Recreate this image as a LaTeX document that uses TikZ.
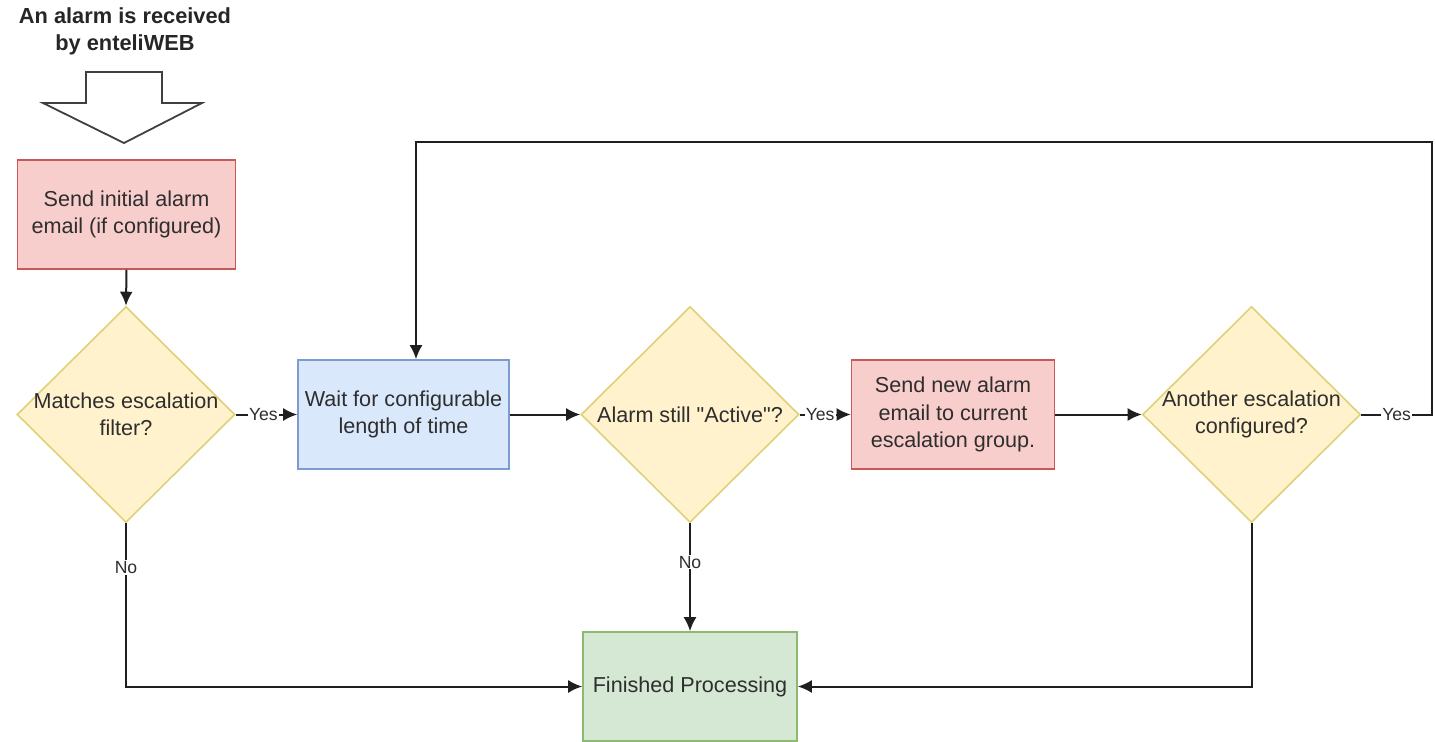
\documentclass[tikz,border=0pt]{standalone}
\usepackage{fontspec}
\setmainfont{Liberation Sans}
\newfontfamily\plainfont{Liberation Sans}
\usetikzlibrary{shapes.geometric,arrows.meta}
\definecolor{redfill}{HTML}{F8CECC}
\definecolor{redline}{HTML}{C8585A}
\definecolor{bluefill}{HTML}{DAE8FC}
\definecolor{blueline}{HTML}{7C9BD0}
\definecolor{yelfill}{HTML}{FFF2CC}
\definecolor{yelline}{HTML}{DDD27A}
\definecolor{grnfill}{HTML}{D5E8D4}
\definecolor{grnline}{HTML}{8DBA72}
\definecolor{txt}{HTML}{2E2E2E}
\tikzset{
  box/.style={draw, line width=0.8pt, minimum width=#1, inner sep=0pt, minimum height=54.5pt, align=center, text=txt, font=\fontsize{10.8}{13.6}\selectfont},
  redbox/.style={box=#1, fill=redfill, draw=redline},
  bluebox/.style={box=#1, fill=bluefill, draw=blueline},
  greenbox/.style={box=#1, fill=grnfill, draw=grnline},
  decision/.style={diamond, aspect=1, draw=yelline, fill=yelfill, line width=0.8pt, minimum width=109pt, minimum height=108pt, inner sep=-5pt, align=center, text=txt, font=\fontsize{10.8}{13.6}\selectfont},
  conn/.style={draw=black!88, line width=1.0pt, -{Latex[length=7pt,width=6.5pt]}},
  lbl/.style={fill=white, inner sep=0.6pt, text=txt, font=\fontsize{8.8}{10}\selectfont},
}
\begin{document}
\begin{tikzpicture}[x=0.5pt,y=-0.5pt]
\useasboundingbox[fill=white] (0,0) rectangle (1436,741);
% title
\node[align=center, font=\bfseries\fontsize{10.9}{13.6}\selectfont, text=black!85] (title) at (125,31) {An alarm is received\\by enteliWEB};
% block arrow
\draw[draw=black!75, fill=white, line width=0.9pt, line join=miter]
  (86,72) -- (162,72) -- (162,103) -- (202,103) -- (124,143) -- (43,103) -- (86,103) -- cycle;
% nodes
\node[redbox=109pt] (s1) at (126.5,214.5) {Send initial alarm\\email (if configured)};
\node[decision] (d1) at (126,414.5) {Matches escalation\\filter?};
\node[bluebox=105.5pt] (w) at (403.5,414.5) {Wait for configurable\\length of time};
\node[decision] (d2) at (690,414.5) {Alarm still {\plainfont "}Active{\plainfont "}?};
\node[redbox=101.5pt] (s2) at (953,414.5) {Send new alarm\\email to current\\escalation group.};
\node[decision] (d3) at (1251.5,414.5) {Another escalation\\configured?};
\node[greenbox=107pt] (f) at (690,686.5) {Finished Processing};
% coordinates
\coordinate (c1) at (126,686.5);
\coordinate (e1) at (1251.5,686.5);
\coordinate (r1) at (1432,414.5);
\coordinate (r2) at (1432,142);
\coordinate (r3) at (416,142);
% connectors
\draw[conn] (s1.south) -- (d1.north);
\draw[conn] (d1.east) -- node[lbl,pos=0.45]{Yes} (w.west);
\draw[conn] (w.east) -- (d2.west);
\draw[conn] (d2.east) -- node[lbl,pos=0.4]{Yes} (s2.west);
\draw[conn] (s2.east) -- (d3.west);
\draw[conn] (d1.south) -- node[lbl,pos=0.27]{No} (c1) -- (f.west);
\draw[conn] (d2.south) -- node[lbl,pos=0.36]{No} (f.north);
\draw[conn] (d3.south) -- (e1) -- (f.east);
\draw[conn] (d3.east) -- node[lbl]{Yes} (r1) -- (r2) -- (r3) -- (r3 |- w.north);
\end{tikzpicture}
\end{document}
